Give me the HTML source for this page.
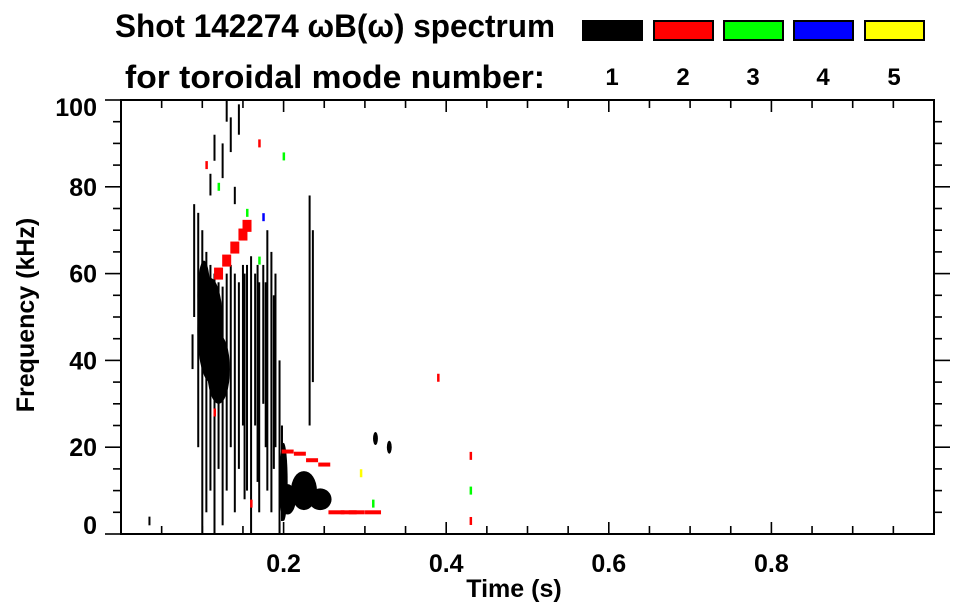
<!DOCTYPE html>
<html><head><meta charset="utf-8"><style>
body{margin:0;background:#fff;}
svg{display:block;font-family:"Liberation Sans",sans-serif;font-weight:bold;}
</style></head><body>
<svg id="chart" width="963" height="615" viewBox="0 0 963 615" xmlns="http://www.w3.org/2000/svg">
<text x="335" y="37" font-size="32" text-anchor="middle" textLength="440" lengthAdjust="spacingAndGlyphs">Shot 142274 ωB(ω) spectrum</text>
<text x="335" y="88" font-size="32" text-anchor="middle" textLength="420" lengthAdjust="spacingAndGlyphs">for toroidal mode number:</text>
<g id="legend"></g>
<g id="marks"></g>
<g id="axes"></g>
<text x="514" y="597" font-size="25" text-anchor="middle">Time (s)</text>
<text transform="translate(34,315) rotate(-90)" font-size="25" text-anchor="middle">Frequency (kHz)</text>
</svg>
<script>
// ---- data ----
const modeColors = ["#000000","#ff0000","#00ff00","#0000ff","#ffff00"];
const modeLabels = ["1","2","3","4","5"];
const xTicks = [0.2,0.4,0.6,0.8];
const xTickLabels = ["0.2","0.4","0.6","0.8"];
const yTicks = [0,20,40,60,80,100];
const yTickLabels = ["0","20","40","60","80","100"];
// mode-1 vertical streaks: time, low freq, high freq
const streakT  = [0.035,0.088,0.09,0.095,0.1,0.105,0.11,0.115,0.12,0.125,0.13,0.135,0.14,0.145,0.15,0.155,0.16,0.165,0.17,0.175,0.18,0.185,0.19,0.195,0.198,0.232,0.236,0.11,0.125,0.135,0.14,0.145,0.115,0.13,0.152,0.168,0.178,0.188];
const streakLo = [2,38,50,20,0,5,10,0,15,2,10,20,5,15,25,10,0,25,5,30,10,5,20,0,3,25,35,78,82,88,76,92,86,95,8,12,20,15];
const streakHi = [4,46,76,74,70,65,62,60,58,57,60,62,60,58,62,62,64,60,58,62,70,65,60,40,25,78,70,83,90,96,80,99,92,100,60,62,58,55];
// dense mode-1 blobs: time, freq, half-width (s), half-height (kHz)
const blobT  = [0.11,0.12,0.102,0.225,0.2,0.245,0.205,0.313,0.33];
const blobF  = [47,38,55,10,12,8,8,22,20];
const blobDt = [0.016,0.014,0.008,0.016,0.005,0.014,0.01,0.003,0.003];
const blobDf = [12,8,8,4.5,9,2.5,3.5,1.5,1.5];
// red (n=2) band: time, freq
const redT = [0.12,0.13,0.14,0.15,0.155,0.205,0.22,0.235,0.25,0.265,0.28,0.29,0.31];
const redF = [60,63,66,69,71,19,18.5,17,16,5,5,5,5];
// isolated coloured specks: time, freq, mode index
const speckT = [0.105,0.17,0.39,0.43,0.43,0.16,0.115,0.155,0.2,0.17,0.31,0.43,0.12,0.175,0.295];
const speckF = [85,90,36,18,3,7,28,74,87,63,7,10,80,73,14];
const speckM = [1,1,1,1,1,1,1,2,2,2,2,2,2,3,4];

// ---- scales ----
const X0=121, X1=934, Y0=534, Y1=100;
const xs = t => X0 + t*(X1-X0)/1.0;
const ys = f => Y0 - f*(Y0-Y1)/100;
const NS="http://www.w3.org/2000/svg";
function mk(tag,parent){const e=document.createElementNS(NS,tag);parent.appendChild(e);return e;}
const marks=document.getElementById('marks'), axes=document.getElementById('axes'), legend=document.getElementById('legend');

// legend
const legX=[582,653,723,793,864];
modeColors.forEach((c,i)=>{
  const r=mk('rect',legend);
  
  
  r.setAttribute('x',legX[i]+1);r.setAttribute('y',21);r.setAttribute('width',59);r.setAttribute('height',19);
  r.setAttribute('fill',c);r.setAttribute('stroke','#000');r.setAttribute('stroke-width',2);
  const t=mk('text',legend);
  
  
  t.setAttribute('x',legX[i]+30);t.setAttribute('y',85);t.setAttribute('font-size',24);t.setAttribute('text-anchor','middle');
  t.textContent=modeLabels[i];
});

// blobs
blobT.forEach((t,i)=>{
  const e=mk('ellipse',marks);
  
  
  e.setAttribute('cx',xs(t));e.setAttribute('cy',ys(blobF[i]));
  e.setAttribute('rx',xs(blobDt[i])-xs(0));e.setAttribute('ry',ys(0)-ys(blobDf[i]));
  e.setAttribute('fill','#000');
});
// streaks
streakT.forEach((t,i)=>{
  const r=mk('rect',marks);
  
  
  r.setAttribute('x',xs(t)-1);r.setAttribute('y',ys(streakHi[i]));
  r.setAttribute('width',2);r.setAttribute('height',ys(streakLo[i])-ys(streakHi[i]));
  r.setAttribute('fill','#000');
});
// red band segments
redT.forEach((t,i)=>{
  const r=mk('rect',marks);
  
  
  const w=i<5?9:(i<9?12:16);
  r.setAttribute('x',xs(t)-w/2);r.setAttribute('y',ys(redF[i])-(i<5?6:2));
  r.setAttribute('width',w);r.setAttribute('height',i<5?12:4);
  r.setAttribute('fill','#ff0000');
});
// specks
speckT.forEach((t,i)=>{
  const r=mk('rect',marks);
  
  
  r.setAttribute('x',xs(t)-1);r.setAttribute('y',ys(speckF[i])-4);
  r.setAttribute('width',2.5);r.setAttribute('height',8);
  r.setAttribute('fill',modeColors[speckM[i]]);
});

// frame
const fr=mk('rect',axes);


fr.setAttribute('x',X0);fr.setAttribute('y',Y1);fr.setAttribute('width',X1-X0);fr.setAttribute('height',Y0-Y1);
fr.setAttribute('fill','none');fr.setAttribute('stroke','#000');fr.setAttribute('stroke-width',2);
function line(x1,y1,x2,y2,name){const l=mk('line',axes);
  
  
  l.setAttribute('x1',x1);l.setAttribute('y1',y1);l.setAttribute('x2',x2);l.setAttribute('y2',y2);
  l.setAttribute('stroke','#000');l.setAttribute('stroke-width',1.6);}
line(105,Y0,X0,Y0,'x-axis-extension');line(105,Y1,X0,Y1,'top-axis-extension');
// x ticks (inward)
for(let k=1;k<20;k++){const t=k*0.05,maj=(k%4===0),len=maj?12:8;
  line(xs(t),Y0,xs(t),Y0-len,'x-tick');line(xs(t),Y1,xs(t),Y1+len,'x-tick-top');}
xTicks.forEach((t,i)=>{const e=mk('text',axes);
  
  
  e.setAttribute('x',xs(t));e.setAttribute('y',572);e.setAttribute('font-size',25);e.setAttribute('text-anchor','middle');e.textContent=xTickLabels[i];});
// y ticks (outward)
for(let f=5;f<100;f+=5){const maj=(f%20===0),len=maj?16:8;
  line(X0,ys(f),X0-len,ys(f),'y-tick');line(X1,ys(f),X1+len,ys(f),'y-tick-right');}
yTicks.forEach((f,i)=>{const e=mk('text',axes);
  
  
  let y=ys(f); if(f===100)y+=7; if(f===0)y-=9;
  e.setAttribute('x',97);e.setAttribute('y',y+9);e.setAttribute('font-size',25);e.setAttribute('text-anchor','end');e.textContent=yTickLabels[i];});
</script>
</body></html>
